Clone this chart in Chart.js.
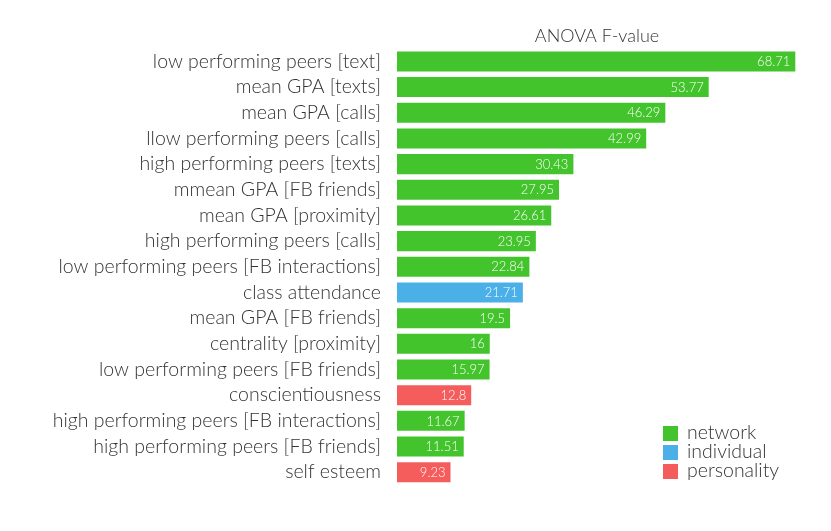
<!DOCTYPE html>
<html>
<head>
<meta charset="utf-8">
<script src="https://cdn.jsdelivr.net/npm/chart.js@4.4.0/dist/chart.umd.min.js"></script>
<style>
  html, body { margin: 0; padding: 0; background: #fff; }
  #wrap { width: 831px; height: 531px; }
</style>
</head>
<body>
<div id="wrap"><canvas id="anovaChart"></canvas></div>
<script>
// features, sorted by F-value
var features = [
    'low performing peers [text]',
    'mean GPA [texts]',
    'mean GPA [calls]',
    'llow performing peers [calls]',
    'high performing peers [texts]',
    'mmean GPA [FB friends]',
    'mean GPA [proximity]',
    'high performing peers [calls]',
    'low performing peers [FB interactions]',
    'class attendance',
    'mean GPA [FB friends]',
    'centrality [proximity]',
    'low performing peers [FB friends]',
    'conscientiousness',
    'high performing peers [FB interactions]',
    'high performing peers [FB friends]',
    'self esteem'
];
var fValues = [68.71, 53.77, 46.29, 42.99, 30.43, 27.95, 26.61, 23.95, 22.84,
               21.71, 19.5, 16, 15.97, 12.8, 11.67, 11.51, 9.23];
var groups = ['network', 'network', 'network', 'network', 'network', 'network',
              'network', 'network', 'network', 'individual', 'network', 'network',
              'network', 'personality', 'network', 'network', 'personality'];
var groupNames = ['network', 'individual', 'personality'];

var groupColors = { network: '#43c42c', individual: '#4bafe8', personality: '#f55c5c' };
var FONT = 'Lato';
var TEXT = '#333333';

// valeurs écrites dans la barre, alignées à droite
var valueLabels = {
    id: 'valueLabels',
    afterDatasetsDraw: function (chart) {
        var ctx = chart.ctx;
        var meta = chart.getDatasetMeta(0);
        ctx.save();
        ctx.font = '300 13px ' + FONT;
        ctx.fillStyle = '#ffffff';
        ctx.textAlign = 'right';
        ctx.textBaseline = 'middle';
        meta.data.forEach(function (bar, i) {
            ctx.fillText(String(fValues[i]), bar.x - 5, bar.y + 0.5);
        });
        ctx.restore();
    }
};

// légende en bas à droite, dans la zone du graphe
var cornerLegend = {
    id: 'cornerLegend',
    afterDraw: function (chart) {
        var ctx = chart.ctx;
        var x = 663, y = 426;
        ctx.save();
        ctx.font = '300 19.5px ' + FONT;
        ctx.textBaseline = 'middle';
        ctx.textAlign = 'left';
        groupNames.forEach(function (g, i) {
            var yy = y + i * 19;
            ctx.fillStyle = groupColors[g];
            ctx.fillRect(x, yy, 15, 15);
            ctx.fillStyle = TEXT;
            ctx.fillText(g, x + 24, yy + 7);
        });
        ctx.restore();
    }
};

var ctx = document.getElementById('anovaChart').getContext('2d');
new Chart(ctx, {
    type: 'bar',
    data: {
        labels: features,
        datasets: [{
            data: fValues,
            backgroundColor: groups.map(function (g) { return groupColors[g]; }),
            borderWidth: 0,
            barPercentage: 0.78,
            categoryPercentage: 1
        }]
    },
    options: {
        indexAxis: 'y',
        responsive: true,
        maintainAspectRatio: false,
        animation: false,
        layout: { padding: { top: 25, right: 34, bottom: 46, left: 0 } },
        plugins: {
            legend: { display: false },
            tooltip: { enabled: false }
        },
        scales: {
            x: {
                position: 'top',
                min: 0,
                max: 69,
                grid: { display: false, drawTicks: false },
                border: { display: false },
                ticks: { display: false },
                title: {
                    display: true,
                    text: 'ANOVA F-value',
                    color: TEXT,
                    font: { family: FONT, size: 18, weight: '300' },
                    padding: { top: 0, bottom: 2 }
                }
            },
            y: {
                grid: { display: false, drawTicks: false },
                border: { display: false },
                afterFit: function (scale) { scale.width = 397; },
                ticks: {
                    color: TEXT,
                    padding: 16,
                    autoSkip: false,
                    font: { family: FONT, size: 19.5, weight: '300' }
                }
            }
        }
    },
    plugins: [valueLabels, cornerLegend]
});
</script>
</body>
</html>
